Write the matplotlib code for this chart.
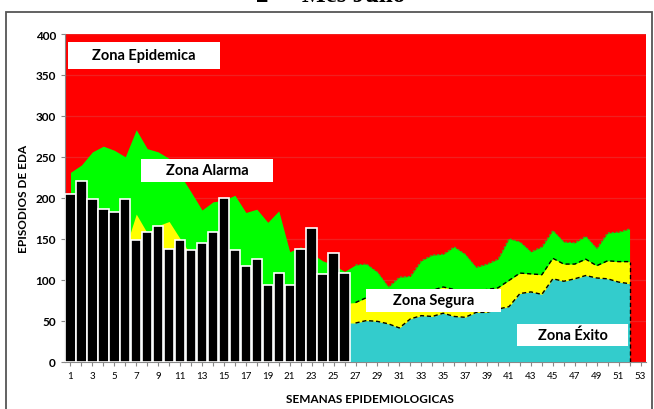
import matplotlib.pyplot as plt
import matplotlib.patches as patches
import numpy as np

# ==============================
# Data
# ==============================
semanas = list(range(1, 53))

# episodios observados (semanas 1-26)
casos = [205, 220, 198, 186, 182, 198, 148, 158, 165, 138, 149, 136, 145, 158,
         200, 136, 117, 125, 93, 108, 94, 138, 163, 107, 132, 108]

# limites del canal endemico (techo de cada zona)
lim_exito = [100, 105, 100, 98, 95, 92, 95, 100, 98, 95, 92, 88, 85, 88,
             85, 78, 72, 70, 65, 68, 62, 60, 58, 55, 50, 47,
             47, 50, 49, 46, 41, 52, 56, 55, 59, 55, 54, 60, 60, 64,
             67, 83, 85, 82, 101, 98, 101, 105, 102, 101, 97, 95]
lim_segura = [150, 155, 150, 148, 145, 138, 180, 157, 166, 171, 150, 130, 128, 130,
              125, 110, 105, 100, 88, 92, 88, 90, 90, 88, 80, 71,
              72, 78, 80, 78, 75, 80, 85, 87, 91, 88, 85, 86, 88, 90,
              99, 108, 107, 106, 126, 119, 119, 125, 117, 123, 122, 122]
lim_alarma = [231, 240, 256, 263, 258, 250, 283, 260, 256, 248, 228, 207, 185, 195,
              197, 203, 182, 186, 170, 184, 134, 140, 132, 123, 118, 110,
              118, 119, 109, 91, 103, 104, 123, 130, 131, 140, 131, 115, 119, 125,
              150, 146, 134, 140, 160, 146, 145, 153, 138, 157, 158, 162]

x_ticks = list(range(1, 54))
x_labels = [str(w) if w % 2 == 1 else "" for w in x_ticks]
y_ticks = list(range(0, 401, 50))

FONT = "Lato"

# ==============================
# Figure
# ==============================
fig = plt.figure(figsize=(6.54, 4.10), dpi=100)
ax = fig.add_axes([65 / 654, 1 - 362.5 / 410, 581 / 654, 327.5 / 410])
ax.set_facecolor("#ff0000")

x = np.array(semanas)
ax.fill_between(x, 0, lim_alarma, color="#00ff00", lw=0, zorder=2)
ax.fill_between(x, 0, lim_segura, color="#ffff00", lw=0, zorder=3)
ax.fill_between(x, 0, lim_exito, color="#33cccc", lw=0, zorder=4)

# dashed borders on second half of year
ax.plot(x[26:], lim_alarma[26:], color="#22bb22", lw=0.8, ls=(0, (2, 1.5)), zorder=5)
ax.plot(x[26:], lim_segura[26:], color="black", lw=1.0, ls=(0, (3, 2)), zorder=5)
ax.plot(x[26:], lim_exito[26:], color="black", lw=1.0, ls=(0, (3, 2)), zorder=5)
ax.plot([52, 52], [0, lim_segura[-1]], color="black", lw=1.0, ls=(0, (3, 2)), zorder=5)

ax.bar(range(1, len(casos) + 1), casos, width=0.95, color="black",
       edgecolor="white", linewidth=1.2, zorder=6)

ax.set_xlim(0.5, 53.5)
ax.set_ylim(0, 400)
ax.set_yticks(y_ticks)
ax.set_yticklabels([str(v) for v in y_ticks], fontsize=8.5, fontweight="bold", family=FONT)
ax.set_xticks(x_ticks)
ax.set_xticklabels(x_labels, fontsize=7, family=FONT)
ax.tick_params(axis="both", colors="#888888", length=3, width=0.8, labelcolor="black")
ax.tick_params(axis="x", pad=4)
ax.grid(axis="y", color="#f02020", lw=0.9, zorder=1)
ax.set_axisbelow(True)
for s in ["top", "right"]:
    ax.spines[s].set_visible(False)
for s in ["left", "bottom"]:
    ax.spines[s].set_color("#888888")

ax.set_ylabel("EPISODIOS DE EDA", fontsize=8.5, fontweight="bold", family=FONT, labelpad=5)
ax.text(370 / 654, 1 - 403 / 410, "SEMANAS EPIDEMIOLOGICAS", transform=fig.transFigure,
        ha="center", va="baseline", fontsize=8.5, fontweight="bold", family=FONT)

# zone labels
zonas = [("Zona Epidemica", 0.77, 357.8, 13.9, 33.0),
         ("Zona Alarma", 7.45, 219.6, 12.05, 28.1),
         ("Zona Segura", 28.0, 60.5, 12.25, 28.2),
         ("Zona Éxito", 41.7, 19.0, 10.2, 26.9)]
for txt, x0, y0, w, h in zonas:
    ax.add_patch(patches.Rectangle((x0, y0), w, h, facecolor="white", edgecolor="none", zorder=8))
    ax.text(x0 + w / 2, y0 + h / 2, txt, ha="center", va="center", fontsize=10.5,
            fontweight="bold", family=FONT, zorder=9)

# cropped title and outer frame
fig.text(331 / 654, 1 - 2 / 410, "2º – Mes Julio", ha="center", va="baseline",
         fontsize=18, fontweight="bold", family="Liberation Serif")
fig.add_artist(patches.Rectangle((6 / 654, -0.05), 646 / 654, 1.05 - 12.5 / 410,
                                 transform=fig.transFigure, fill=False,
                                 edgecolor="#555555", lw=1.3))

fig.savefig("out.png", dpi=100)
